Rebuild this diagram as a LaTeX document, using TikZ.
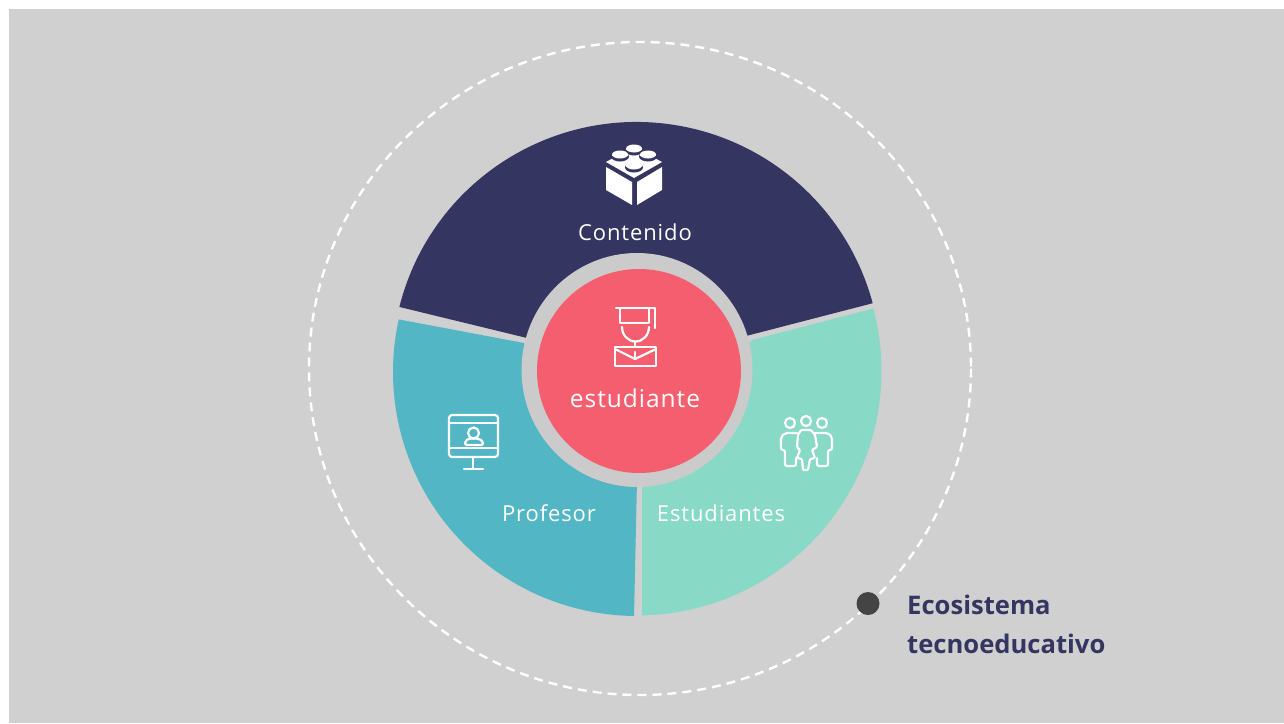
\documentclass[tikz,border=0pt]{standalone}
\usepackage{fontspec}
\setmainfont{Open Sans}
\newfontfamily\spaced[LetterSpace=4]{Open Sans}
\newfontfamily\boldf{Open Sans Bold}
\definecolor{bgc}{HTML}{D0D0D0}
\definecolor{ringc}{HTML}{CBCBCB}
\definecolor{navyc}{HTML}{353561}
\definecolor{tealc}{HTML}{52B6C4}
\definecolor{mintc}{HTML}{88D9C5}
\definecolor{redc}{HTML}{F45E6E}
\definecolor{dotc}{HTML}{444444}
\tikzset{
  lbl/.style={text=white,inner sep=0pt,font=\fontsize{22}{26}\spaced},
  ico/.style={draw=white,line width=2.2pt,line join=round,line cap=round},
  callout/.style={text=navyc,inner sep=0pt,align=left,font=\fontsize{25.6}{38.5}\boldf}
}
\begin{document}
\begin{tikzpicture}[x=1pt,y=-1pt]
\useasboundingbox (0,0) rectangle (1284,723);
\fill[white] (0,0) rectangle (1284,723);
\fill[bgc] (9,9) rectangle (1284,723);
% outer dashed orbit
\draw[white,line width=2.4pt,dash pattern=on 9pt off 6pt] (640,368.5) ellipse [x radius=331,y radius=326.5];
% segments
\fill[navyc] (636.5,366.5) ++(-165.9:244.5) arc[start angle=-165.9,end angle=-15,radius=244.5] -- (746,336) -- (527,338) -- cycle;
\fill[tealc] (637,372) ++(192.45:244) arc[start angle=192.45,end angle=90.7,radius=244] -- (637,480) -- (524,343) -- cycle;
\fill[mintc] (637,371) ++(-14.8:244.5) arc[start angle=-14.8,end angle=88.8,radius=244.5] -- (642,480) -- (752,340) -- cycle;
% hub
\fill[ringc] (637,370) ellipse[x radius=115.5,y radius=117];
\node[circle,fill=redc,minimum size=204pt,inner sep=0pt] (hub) at (639,371) {};
% labels
\node[lbl] (contenido) at (635,232) {Contenido};
\node[lbl] (estudiante) at (635,398) {\fontsize{24.5}{28}\spaced estudiante};
\node[lbl] (profesor) at (549,513.5) {Profesor};
\node[lbl] (estudiantes) at (721,513.5) {Estudiantes};
% lego icon
\fill[white] (606,162) -- (634,147) -- (662,162) -- (634,178) -- cycle;
\fill[white] (606,167) -- (632,182) -- (632,205) -- (606,190) -- cycle;
\fill[white] (662,167) -- (637,182) -- (637,205) -- (662,190) -- cycle;
\foreach \cx/\cy in {634/149,620/155,648/155,634/166}{
  \fill[navyc] (\cx,\cy+1.5) ellipse[x radius=9,y radius=5];
  \fill[white] (\cx,\cy-0.5) ellipse[x radius=8,y radius=4];
  \fill[white] (\cx-8,\cy-0.5) -- (\cx+8,\cy-0.5) -- (\cx+8,\cy) -- (\cx-8,\cy) -- cycle;
}
% graduate icon
\draw[ico] (616,308) -- (655,308) -- (655,328);
\draw[ico] (620,308) -- (620,323) -- (649,323) -- (649,308);
\draw[ico] (622,327) arc[start angle=180,end angle=0,x radius=13.5,y radius=14.5];
\draw[ico] (635,342) -- (635,347);
\draw[ico] (615,347) rectangle (656,366);
\draw[ico] (615,349) -- (635,359) -- (656,349);
\draw[ico] (635,352) -- (635,358);
% monitor icon
\draw[ico,rounded corners=3pt] (449,415) rectangle (498,457);
\draw[ico] (449,423) -- (498,423);
\draw[ico] (449,448) -- (498,448);
\draw[ico] (473,457) -- (473,469);
\draw[ico] (464,469) -- (483,469);
\draw[ico] (473.5,433) circle[radius=5.5];
\draw[ico,rounded corners=2pt] (465,445) -- (465,441) -- (469,438.5) -- (478,438.5) -- (483,441) -- (483,445) -- cycle;
% people icon
\draw[ico] (790,423) circle[radius=5];
\draw[ico] (806,421) circle[radius=5];
\draw[ico] (822,423) circle[radius=5];
\draw[ico,rounded corners=2pt] (797,433) -- (785,433) -- (781,437) -- (781,450) -- (785,450) -- (785,466) -- (796,466) -- (796,458);
\draw[ico,rounded corners=2pt] (815,433) -- (828,433) -- (832,437) -- (832,450) -- (828,450) -- (828,466) -- (817,466) -- (817,458);
\draw[ico,rounded corners=1pt] (801,430) -- (811,430) -- (815,435) -- (817,447) -- (812,450) -- (815,458) -- (810,459) -- (808,470) -- (803,470) -- (802,459) -- (797,458) -- (800,450) -- (797,447) -- (798,435) -- cycle;
% callout
\node[circle,fill=dotc,minimum size=23pt,inner sep=0pt] (dot) at (868,603.5) {};
\node[callout,anchor=north west] (eco) at (907,595) {Ecosistema\\tecnoeducativo};
\end{tikzpicture}
\end{document}
